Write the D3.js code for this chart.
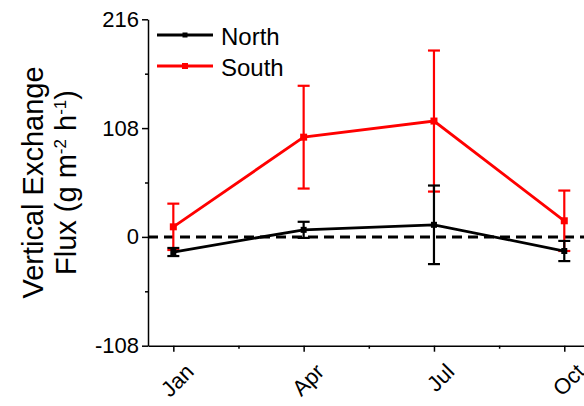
<!DOCTYPE html>
<html>
<head>
<meta charset="utf-8">
<script src="https://cdn.jsdelivr.net/npm/d3@7"></script>
<style>
  body { margin: 0; background: #fff; }
  svg { display: block; font-family: Arial, "Liberation Sans", sans-serif; }
</style>
</head>
<body>
<div id="chart"></div>
<script>
const months = [1, 4, 7, 10];
const monthLabels = ['Jan', 'Apr', 'Jul', 'Oct'];
const yTicks = [-108, 0, 108, 216];
const yMinorTicks = [-54, 54, 162];

const northValues = [-15, 7, 12, -14];
const northErrors = [4, 8, 39, 10];
const southValues = [10, 99, 115, 16];
const southErrors = [23, 51, 70, 30];

const width = 584;
const height = 406;

const svg = d3.select('#chart')
  .append('svg')
  .attr('width', width)
  .attr('height', height);

const x = d3.scaleLinear()
  .domain([0.417, 10.9])
  .range([148, 148 + (10.9 - 0.417) * 43.44]);

const y = d3.scaleLinear()
  .domain([-108, 216])
  .range([345.7, 19.3]);

// axes
const yAxis = svg.append('g')
  .attr('transform', `translate(${x(0.417)},0)`)
  .call(d3.axisLeft(y).tickValues(yTicks).tickFormat(d => String(d)).tickSize(6).tickPadding(3).tickSizeOuter(0));
yAxis.select('.domain').attr('stroke-width', 1.5);
yAxis.selectAll('.tick line').attr('stroke-width', 1.5);
yAxis.selectAll('text').attr('font-size', '22px').attr('fill', '#000');

svg.append('g')
  .attr('transform', `translate(${x(0.417)},0)`)
  .call(d3.axisLeft(y).tickValues(yMinorTicks).tickSize(3).tickFormat('').tickSizeOuter(0))
  .call(g => g.select('.domain').remove())
  .selectAll('.tick line').attr('stroke-width', 1.5);

const xAxis = svg.append('g')
  .attr('transform', `translate(0,${y(-108)})`)
  .call(d3.axisBottom(x).tickValues(months).tickFormat((d, i) => monthLabels[i]).tickSize(6).tickSizeOuter(0));
xAxis.select('.domain').attr('stroke-width', 1.5);
xAxis.selectAll('.tick line').attr('stroke-width', 1.5);
xAxis.selectAll('text')
  .attr('font-size', '22px')
  .attr('fill', '#000')
  .attr('text-anchor', 'end')
  .attr('dy', 0)
  .attr('transform', 'translate(15,21) rotate(-45)');

svg.append('g')
  .attr('transform', `translate(0,${y(-108)})`)
  .call(d3.axisBottom(x).tickValues([2.5, 5.5, 8.5]).tickSize(3).tickFormat('').tickSizeOuter(0))
  .call(g => g.select('.domain').remove())
  .selectAll('.tick line').attr('stroke-width', 1.5);

// y title
const title = svg.append('text')
  .attr('transform', `translate(0,${(y(216) + y(-108)) / 2}) rotate(-90)`)
  .attr('text-anchor', 'middle')
  .attr('font-size', '29px')
  .attr('fill', '#000');
title.append('tspan').attr('x', 0).attr('y', 43).text('Vertical Exchange');
const line2 = title.append('tspan').attr('x', 0).attr('y', 76);
line2.append('tspan').text('Flux (g m');
line2.append('tspan').attr('dy', -10).attr('font-size', '17px').text('-2');
line2.append('tspan').attr('dy', 10).text(' h');
line2.append('tspan').attr('dy', -10).attr('font-size', '17px').text('-1');
line2.append('tspan').attr('dy', 10).text(')');

// zero line
svg.append('line')
  .attr('x1', x(0.417))
  .attr('x2', width)
  .attr('y1', y(0))
  .attr('y2', y(0))
  .attr('stroke', '#000')
  .attr('stroke-width', 3)
  .attr('stroke-dasharray', '10,6');

function drawSeries(values, errors, color, size) {
  const data = months.map((m, i) => ({ m, v: values[i], e: errors[i] }));
  const g = svg.append('g');

  const line = d3.line().x(d => x(d.m)).y(d => y(d.v));
  g.append('path')
    .datum(data)
    .attr('fill', 'none')
    .attr('stroke', color)
    .attr('stroke-width', 2.8)
    .attr('d', line);

  const bars = g.selectAll('.err')
    .data(data)
    .enter()
    .append('g')
    .attr('stroke', color)
    .attr('stroke-width', 2.2);

  bars.append('line')
    .attr('x1', d => x(d.m)).attr('x2', d => x(d.m))
    .attr('y1', d => y(d.v + d.e)).attr('y2', d => y(d.v - d.e));
  bars.append('line')
    .attr('x1', d => x(d.m) - 6).attr('x2', d => x(d.m) + 6)
    .attr('y1', d => y(d.v + d.e)).attr('y2', d => y(d.v + d.e));
  bars.append('line')
    .attr('x1', d => x(d.m) - 6).attr('x2', d => x(d.m) + 6)
    .attr('y1', d => y(d.v - d.e)).attr('y2', d => y(d.v - d.e));

  g.selectAll('rect')
    .data(data)
    .enter()
    .append('rect')
    .attr('x', d => x(d.m) - size / 2)
    .attr('y', d => y(d.v) - size / 2)
    .attr('width', size)
    .attr('height', size)
    .attr('fill', color);
}

drawSeries(southValues, southErrors, '#ff0000', 7);
drawSeries(northValues, northErrors, '#000000', 6);

// legend
const legend = svg.append('g').attr('transform', 'translate(157,35)');
[['North', '#000000', 5], ['South', '#ff0000', 6]].forEach(([name, color, size], i) => {
  const row = legend.append('g').attr('transform', `translate(0,${i * 31})`);
  row.append('line')
    .attr('x1', 0).attr('x2', 56)
    .attr('stroke', color)
    .attr('stroke-width', 2.8);
  row.append('rect')
    .attr('x', 28 - size / 2).attr('y', -size / 2)
    .attr('width', size).attr('height', size)
    .attr('fill', color);
  row.append('text')
    .attr('x', 64)
    .attr('y', 10)
    .attr('font-size', '24px')
    .attr('fill', '#000')
    .text(name);
});
</script>
</body>
</html>
